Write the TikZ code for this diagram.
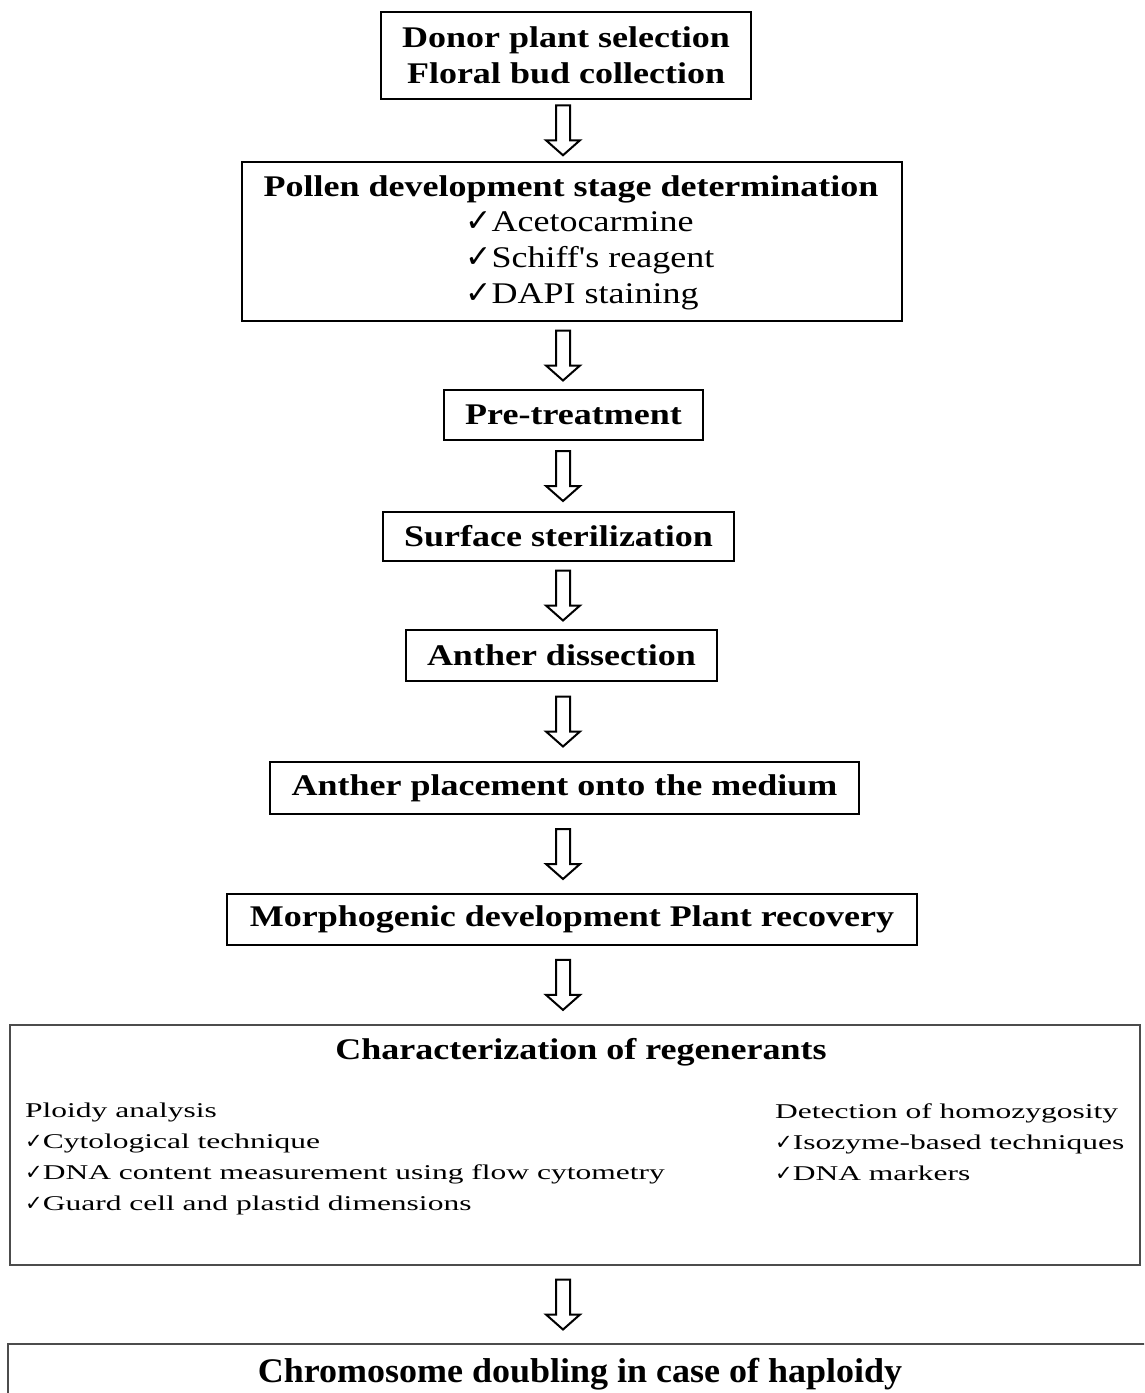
\documentclass[tikz,border=0pt]{standalone}
\usepackage{fontspec}
\setmainfont{Liberation Serif}
\newfontfamily\boxfont{Liberation Serif}[FakeStretch=1.2]
\newfontfamily\txtfont{Liberation Serif}[FakeStretch=1.5]
\newfontfamily\symfont{DejaVu Sans}
\usetikzlibrary{calc}
\newcommand\ck{{\symfont\fontsize{1.05em}{1em}\selectfont ✓}}
\newcommand\cks{{\symfont\fontsize{1.0em}{1em}\selectfont ✓}}
\tikzset{
  stepbox/.style={draw=black, line width=2pt, fill=white, inner sep=0pt, align=center,
    font=\boxfont\bfseries\fontsize{30}{36}\selectfont},
  boxtext/.style={inner sep=0pt, font=\boxfont\bfseries\fontsize{30}{36}\selectfont},
  bigbox/.style={draw=black!70, line width=2.4pt, inner sep=0pt},
  bodytext/.style={inner sep=0pt, align=left, font=\txtfont\fontsize{21}{31}\selectfont},
  barrow/.style={draw=black, line width=2pt, fill=white, line join=miter},
}
\newcommand\blockarrow[2]{%
  \draw[barrow] let \p1=(#1.south), \p2=(#2.north), \n1={0.5*\y1+0.5*\y2} in
    (556pt,\n1+25pt) -- (570pt,\n1+25pt) -- (570pt,\n1-10pt) -- (580pt,\n1-10pt)
    -- (563pt,\n1-25pt) -- (546pt,\n1-10pt) -- (556pt,\n1-10pt) -- cycle;}
\begin{document}
\begin{tikzpicture}[x=1pt,y=-1pt]
\clip (0,0) rectangle (1144,1393);
\fill[white] (0,0) rectangle (1144,1393);

\node[stepbox, minimum width=370pt, minimum height=87pt] (b1) at (566,55)
  {Donor plant selection\\Floral bud collection};
\node[stepbox, minimum width=660pt, minimum height=159pt] (b2) at (572,241.5) {};
\node[boxtext] (t2) at (571,189) {Pollen development stage determination};
\node[inner sep=0pt, anchor=north west, align=left,
      font=\boxfont\fontsize{30}{36}\selectfont] (i2) at (465,211)
  {\ck Acetocarmine\\
   \ck Schiff's reagent\\
   \ck DAPI staining};
\node[stepbox, minimum width=259pt, minimum height=50pt] (b3) at (573.5,415) {Pre-treatment};
\node[stepbox, minimum width=351pt, minimum height=49pt] (b4) at (558.5,536.5) {Surface sterilization};
\node[stepbox, minimum width=311pt, minimum height=51pt] (b5) at (561.5,655.5) {Anther dissection};
\node[stepbox, minimum width=589pt, minimum height=52pt] (b6) at (564.5,788) {Anther placement onto the medium};
\node[stepbox, minimum width=690pt, minimum height=51pt] (b7) at (572,919.5) {Morphogenic development Plant recovery};

\node[bigbox, minimum width=1130pt, minimum height=240pt] (b8) at (575,1145) {};
\node[boxtext] (t8) at (581,1052) {Characterization of regenerants};
\node[bodytext, anchor=north west] (l8) at (25,1103)
  {Ploidy analysis\\
   \cks Cytological technique\\
   \cks DNA content measurement using flow cytometry\\
   \cks Guard cell and plastid dimensions};
\node[bodytext, anchor=north west] (r8) at (775,1103)
  {Detection of homozygosity\\
   \cks Isozyme-based techniques\\
   \cks DNA markers};

\node[bigbox, minimum width=1152pt, minimum height=80pt] (b9) at (584,1384) {};
\node[boxtext] (t9) at (580,1374)
  {\scalebox{1}[1.15]{Chromosome doubling in case of haploidy}};

\blockarrow{b1}{b2}
\blockarrow{b2}{b3}
\blockarrow{b3}{b4}
\blockarrow{b4}{b5}
\blockarrow{b5}{b6}
\blockarrow{b6}{b7}
\blockarrow{b7}{b8}
\blockarrow{b8}{b9}
\end{tikzpicture}
\end{document}
